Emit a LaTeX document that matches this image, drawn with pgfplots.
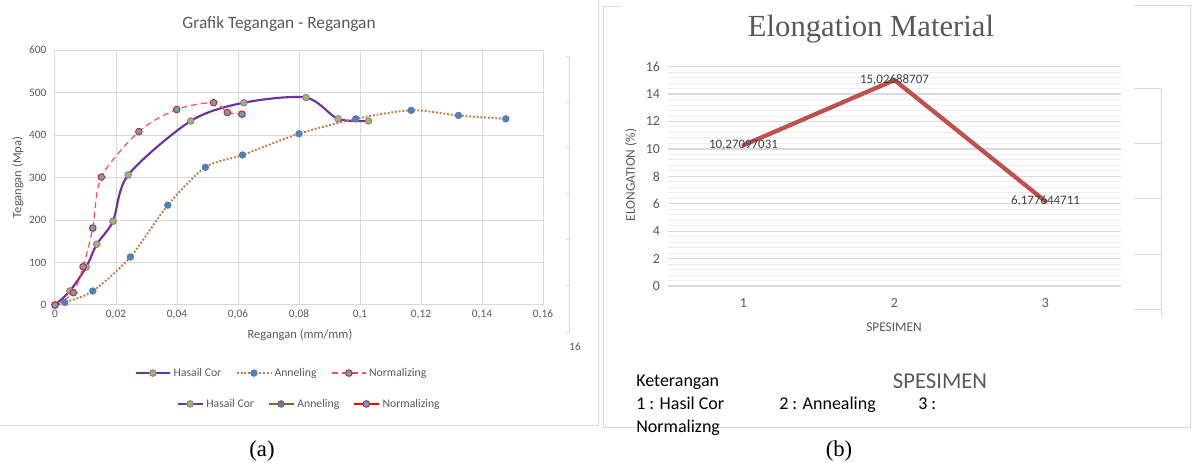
\documentclass[border=0pt]{standalone}
\usepackage{pgfplots}
\pgfplotsset{compat=1.18}
\usepackage{pgfplotstable}
\usepackage{fontspec}
\setmainfont{Carlito}
\newfontfamily\timesfont{Liberation Serif}
\definecolor{gridc}{HTML}{D9D9D9}
\definecolor{minorc}{HTML}{EDEDED}
\definecolor{txtc}{HTML}{595959}
\definecolor{lblc}{HTML}{404040}
\definecolor{purp}{HTML}{7030A0}
\definecolor{purpm}{HTML}{9966CC}
\definecolor{greenf}{HTML}{9BBB59}
\definecolor{annl}{HTML}{C5773C}
\definecolor{annm}{HTML}{4F81BD}
\definecolor{annmd}{HTML}{5A7DA8}
\definecolor{norml}{HTML}{FF5050}
\definecolor{normm}{HTML}{4BACC6}
\definecolor{brownl}{HTML}{9E5A23}
\definecolor{redl}{HTML}{FF0000}
\definecolor{elong}{HTML}{C0504D}
\newcommand{\fs}[1]{\fontsize{#1pt}{#1pt}\selectfont}

\pgfplotstableread{
x y
0 0
0.0049 33
0.0102 89
0.0137 143
0.0190 197
0.0240 306
0.0445 433
0.0619 476
0.0823 488
0.0928 438
0.1028 433
}\hasil

\pgfplotstableread{
x y
0 0
0.0032 6
0.0124 33
0.0247 113
0.0370 235
0.0493 324
0.0615 353
0.0800 403
0.0986 438
0.1168 458
0.1323 446
0.1478 438
}\anneal

\pgfplotstableread{
x y
0 0
0.0060 29
0.0092 90
0.0124 181
0.0152 301
0.0275 408
0.0399 460
0.0520 476
0.0565 453
0.0613 449
}\normal

\pgfplotstableread{
x y lab
1 10.27097031 10,27097031
2 15.02688707 15,02688707
3 6.177644711 6,177644711
}\elongdata

\begin{document}
\begin{tikzpicture}
\begin{scope}[x=0.75pt,y=-0.75pt]
\path[use as bounding box] (0,0) rectangle (1197,463);
\coordinate (A) at (55,305);
\coordinate (B) at (668,286);
% panel (a) frame
\draw[gridc, line width=0.75pt] (0,426) -- (598,426) (598,0) -- (598,426);
% ghost secondary axis
\draw[gridc, line width=0.75pt] (569,57) -- (569,333);
\foreach \yy in {57,103,148,194,240,286,333} {\draw[gridc, line width=0.75pt] (566,\yy) -- (569,\yy);}
\node[font=\fs{8.5}, text=txtc] at (575,347) {16};
\node[font=\fs{13}, text=txtc] at (279,24) {Grafik Tegangan - Regangan};
\node[font=\timesfont\fs{17}] at (262,451) {(a)};
% panel (b) frame
\draw[gridc, line width=0.75pt] (603,7) -- (603,428) -- (1190,428) -- (1190,6) -- (1134,6);
\draw[gridc, line width=0.75pt] (603,7) -- (620,7);
\draw[gridc, line width=0.75pt] (1161,89) -- (1161,317);
\foreach \yy in {89,144,199,255,310} {\draw[gridc, line width=0.75pt] (1134,\yy) -- (1161,\yy);}
\node[font=\timesfont\fs{23}, text=txtc, anchor=base] at (871,37) {Elongation Material};
\node[font=\fs{13.5}, anchor=base west, inner sep=0pt] at (636,387) {Keterangan};
\node[font=\fs{13.5}, anchor=base west, inner sep=0pt] at (636,410) {1 : Hasil Cor};
\node[font=\fs{13.5}, anchor=base west, inner sep=0pt] at (779,410) {2 : Annealing};
\node[font=\fs{13.5}, anchor=base west, inner sep=0pt] at (918,410) {3 :};
\node[font=\fs{13.5}, anchor=base west, inner sep=0pt] at (636,433) {Normalizng};
\node[font=\fs{17}, text=txtc, anchor=base] at (940,389) {SPESIMEN};
\node[font=\timesfont\fs{17}] at (839,451) {(b)};
\end{scope}

% ---------- panel (a) ----------
\begin{axis}[
  at={(A)}, anchor=south west, scale only axis,
  width=366pt, height=191.25pt,
  xmin=0, xmax=0.16, ymin=0, ymax=600,
  xtick={0,0.02,0.04,0.06,0.08,0.1,0.12,0.14,0.16},
  xticklabels={0,{0,02},{0,04},{0,06},{0,08},{0,1},{0,12},{0,14},{0,16}},
  ytick={0,100,200,300,400,500,600},
  grid=major,
  major grid style={draw=gridc, line width=0.75pt},
  axis line style={draw=gridc, line width=0.75pt},
  tick style={draw=none},
  tick label style={font=\fs{8.5}, text=txtc},
  yticklabel style={xshift=-3pt},
  /pgf/number format/assume math mode=true,
  xlabel={Regangan (mm/mm)}, ylabel={Tegangan (Mpa)},
  label style={font=\fs{9.4}, text=txtc},
  xlabel style={at={(axis description cs:0.502,-0.118)}, anchor=center},
  ylabel style={at={(axis description cs:-0.076,0.5)}, anchor=center},
  legend columns=3,
  legend style={at={(axis description cs:0.465,-0.267)}, anchor=center, draw=none, fill=none,
    font=\fs{8.8}, text=txtc, /tikz/every even column/.append style={column sep=9pt}},
  legend image code/.code={\draw[mark repeat=2,mark phase=2] plot coordinates {(0pt,0pt) (12.75pt,0pt) (25.5pt,0pt)};},
  mark size=2.5pt,
  clip=false,
]
\addplot[purp, line width=1.6pt, smooth, tension=0.5, mark=*, mark options={solid, fill=greenf, draw=purpm, line width=0.6pt}] table {\hasil};
\addlegendentry{Hasail Cor}
\addplot[annl, line width=1.4pt, dash pattern=on 1.4pt off 1.4pt, smooth, tension=0.5, mark=*, mark options={solid, fill=annm, draw=annmd, line width=0.5pt}] table {\anneal};
\addlegendentry{Anneling}
\addplot[norml, line width=0.9pt, dash pattern=on 4.5pt off 3pt, smooth, tension=0.5, mark=*, mark options={solid, fill=normm, draw=redl, line width=0.6pt}] table {\normal};
\addlegendentry{Normalizing}
\end{axis}

% second legend row of panel (a)
\begin{axis}[
  at={(A)}, anchor=south west, scale only axis,
  width=366pt, height=191.25pt,
  xmin=0, xmax=0.16, ymin=0, ymax=600,
  hide axis,
  legend columns=3,
  legend style={at={(axis description cs:0.5215,-0.388)}, anchor=center, draw=none, fill=none,
    font=\fs{8.8}, text=txtc, /tikz/every even column/.append style={column sep=8pt}},
  legend image code/.code={\draw[mark repeat=2,mark phase=2] plot coordinates {(0pt,0pt) (9.4pt,0pt) (18.8pt,0pt)};},
  mark size=2.5pt,
]
\addlegendimage{purp, line width=1.6pt, mark=*, mark options={solid, fill=greenf, draw=purpm, line width=0.6pt}}
\addlegendentry{Hasail Cor}
\addlegendimage{brownl, line width=1.6pt, mark=*, mark options={solid, fill=annm, draw=brownl, line width=0.6pt}}
\addlegendentry{Anneling}
\addlegendimage{redl, line width=1.6pt, mark=*, mark options={solid, fill=normm, draw=redl, line width=0.6pt}}
\addlegendentry{Normalizing}
\end{axis}

% ---------- panel (b) ----------
\begin{axis}[
  at={(B)}, anchor=south west, scale only axis,
  width=339.75pt, height=164.5pt,
  xmin=0.5, xmax=3.5, ymin=0, ymax=16,
  xtick={1,2,3}, ytick={0,2,4,6,8,10,12,14,16},
  minor y tick num=4,
  ymajorgrids, yminorgrids,
  major grid style={draw=gridc, line width=0.9pt},
  minor grid style={draw=minorc, line width=0.75pt},
  axis line style={draw=none},
  tick style={draw=none},
  tick label style={font=\fs{10.4}, text=txtc},
  xticklabel style={yshift=-6pt},
  yticklabel style={xshift=-2.5pt},
  /pgf/number format/assume math mode=true,
  xlabel={SPESIMEN}, ylabel={ELONGATION (\%)},
  label style={font=\fs{10}, text=txtc},
  xlabel style={at={(axis description cs:0.499,-0.187)}, anchor=center},
  ylabel style={at={(axis description cs:-0.082,0.506)}, anchor=center},
  clip=false,
]
\addplot[elong, line width=3.2pt, line cap=round, line join=round,
  nodes near coords, point meta=explicit symbolic,
  nodes near coords style={anchor=center, font=\fs{9.7}, text=lblc, inner sep=0pt}]
  table[meta=lab] {\elongdata};
\end{axis}
\end{tikzpicture}
\end{document}
